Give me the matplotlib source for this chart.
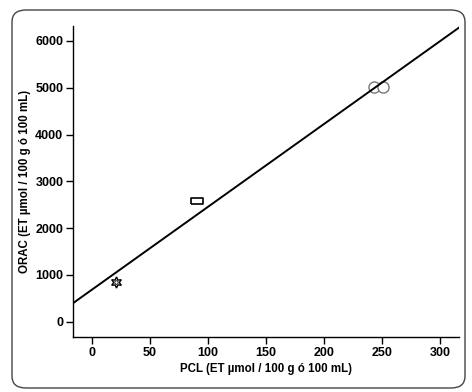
import numpy as np
import matplotlib
matplotlib.use("Agg")
import matplotlib.pyplot as plt
from matplotlib.patches import FancyBboxPatch

# PCL vs ORAC values
star_x = [21]
star_y = [860]
rect_x = [91]
rect_y = [2570]
circ_x = [243, 251]
circ_y = [5020, 5020]

x_ticks = [0, 50, 100, 150, 200, 250, 300]
y_ticks = [0, 1000, 2000, 3000, 4000, 5000, 6000]

plt.rcParams["font.family"] = ["Liberation Sans", "DejaVu Sans"]

fig = plt.figure(figsize=(4.72, 3.92), dpi=100)
fig.patch.set_facecolor("white")

# rounded frame around the whole figure
frame = FancyBboxPatch((12 / 472, 4 / 392), 453 / 472, 378 / 392,
                       boxstyle="round,pad=0,rounding_size=0.03",
                       transform=fig.transFigure, facecolor="none",
                       edgecolor="#444444", linewidth=1.0)
fig.patches.append(frame)

ax = fig.add_axes([73 / 472, 55 / 392, 386 / 472, 311 / 392])
ax.set_xlim(-16, 316)
ax.set_ylim(-326, 6320)

# regression line over all points
all_x = np.array(star_x + rect_x + circ_x, dtype=float)
all_y = np.array(star_y + rect_y + circ_y, dtype=float)
slope, intercept = np.polyfit(all_x, all_y, 1)
xl = np.array([-16, 316])
ax.plot(xl, slope * xl + intercept, color="black", lw=1.4, zorder=2)

ax.plot(star_x, star_y, ls="none", marker=(6, 1, 0), ms=8, mfc="white",
        mec="black", mew=1.0, zorder=3)
ax.plot(star_x, star_y, ls="none", marker="o", ms=2.5, mfc="white",
        mec="black", mew=0.6, zorder=4)
rect_marker = [(-1.6, -1), (1.6, -1), (1.6, 1), (-1.6, 1), (-1.6, -1)]
ax.plot(rect_x, rect_y, ls="none", marker=rect_marker, ms=8, mfc="white",
        mec="black", mew=1.2, zorder=3)
ax.plot(circ_x, circ_y, ls="none", marker="o", ms=8, mfc="white",
        mec="#777777", mew=1.0, zorder=1)

ax.set_xticks(x_ticks)
ax.set_yticks(y_ticks)
for s in ["top", "right"]:
    ax.spines[s].set_visible(False)
for s in ["left", "bottom"]:
    ax.spines[s].set_linewidth(1.0)
ax.tick_params(direction="out", length=5, width=1.0, labelsize=9, pad=2)
for lab in ax.get_xticklabels() + ax.get_yticklabels():
    lab.set_fontweight("bold")

ax.set_xlabel("PCL (ET µmol / 100 g ó 100 mL)", fontsize=8.3,
              fontweight="bold", labelpad=3)
ax.set_ylabel("ORAC (ET µmol / 100 g ó 100 mL)", fontsize=8.3,
              fontweight="bold")
ax.yaxis.set_label_coords(-0.108, 0.5)

fig.savefig("out.png", dpi=100)
